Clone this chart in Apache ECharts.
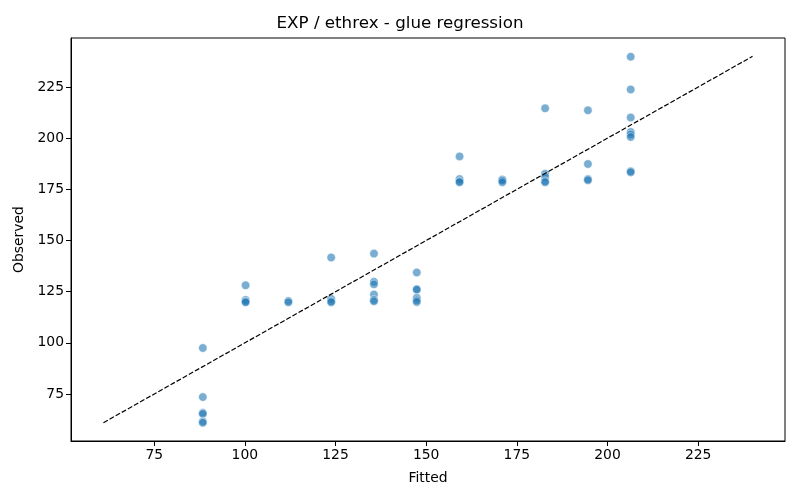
<!DOCTYPE html>
<html>
<head>
<meta charset="utf-8">
<script src="https://cdn.jsdelivr.net/npm/echarts@6/dist/echarts.min.js"></script>
<style>
  html, body { margin: 0; padding: 0; background: #fff; }
  #chart { width: 800px; height: 500px; }
</style>
</head>
<body>
<div id="chart"></div>
<script>
// fitted value of each point (one column per fitted level)
var fitted = [
  88.4, 88.4, 88.4, 88.4, 88.4, 88.4,
  100.2, 100.2, 100.2, 100.2,
  112.0, 112.0,
  123.8, 123.8, 123.8, 123.8,
  135.6, 135.6, 135.6, 135.6, 135.6, 135.6,
  147.4, 147.4, 147.4, 147.4, 147.4, 147.4,
  159.2, 159.2, 159.2, 159.2,
  171.0, 171.0, 171.0,
  182.8, 182.8, 182.8, 182.8, 182.8,
  194.6, 194.6, 194.6, 194.6,
  206.4, 206.4, 206.4, 206.4, 206.4, 206.4, 206.4, 206.4
]
// observed value of each point
var observed = [
  97.5, 73.5, 65.8, 65.3, 61.6, 61.0,
  128.1, 121.0, 120.2, 119.8,
  120.5, 119.8,
  141.7, 121.5, 120.3, 119.9,
  143.6, 129.8, 128.6, 123.6, 121.0, 120.3,
  134.4, 126.3, 126.0, 122.0, 120.8, 120.0,
  191.1, 180.0, 178.9, 178.5,
  179.8, 179.3, 178.5,
  214.6, 182.6, 181.0, 179.0, 178.5,
  213.6, 187.4, 180.0, 179.5,
  239.8, 223.8, 210.1, 203.0, 201.8, 200.6, 183.9, 183.4
]
// y = x reference line ends
var lineEnds = [61, 240]
var ticks = [75, 100, 125, 150, 175, 200, 225]

var chart = echarts.init(document.getElementById("chart"))

var points = []
for (var i = 0; i < fitted.length; i++) {
  points.push([fitted[i], observed[i]])
}

var font = "DejaVu Sans"

function axis(name, gap, rot) {
  return {
    type: "value",
    min: 52.05,
    max: 248.95,
    name: name,
    nameLocation: "middle",
    nameGap: gap,
    nameRotate: rot,
    nameTextStyle: { color: "#000", fontSize: 13.9, fontFamily: font },
    axisLine: { show: true, onZero: false, lineStyle: { color: "#000", width: 1 } },
    axisTick: { show: true, length: 5, customValues: ticks, lineStyle: { color: "#000" } },
    axisLabel: { customValues: ticks, color: "#000", fontSize: 13.9, fontFamily: font, margin: 7 },
    splitLine: { show: false }
  }
}

var option = {
  animation: false,
  backgroundColor: "#fff",
  title: {
    text: "EXP / ethrex - glue regression",
    left: "center",
    top: 10,
    textStyle: { color: "#000", fontSize: 16.7, fontWeight: "normal", fontFamily: font }
  },
  grid: {
    left: 71, right: 15, top: 38, bottom: 59,
    show: true, borderColor: "#000", borderWidth: 1
  },
  xAxis: axis("Fitted", 30, 0),
  yAxis: axis("Observed", 42, 90),
  series: [
    {
      type: "scatter",
      data: points,
      symbolSize: 8.5,
      itemStyle: { color: "rgba(31,119,180,0.75)", borderColor: "rgba(255,255,255,0.75)", borderWidth: 0.8 }
    },
    {
      type: "line",
      data: [[lineEnds[0], lineEnds[0]], [lineEnds[1], lineEnds[1]]],
      symbol: "none",
      lineStyle: { color: "#000", width: 1.2, type: [5, 2] }
    }
  ]
}

chart.setOption(option)
</script>
</body>
</html>
